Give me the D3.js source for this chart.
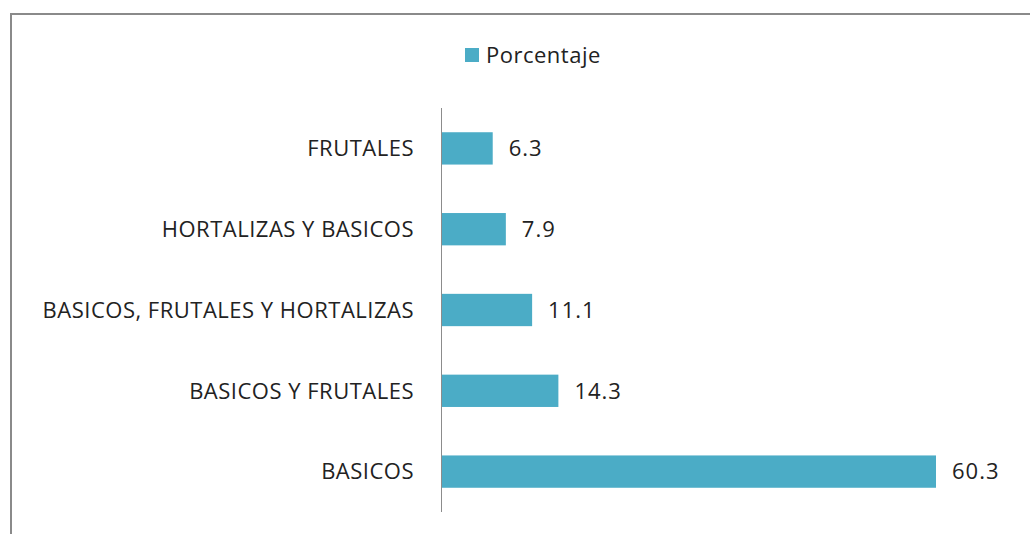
<!DOCTYPE html>
<html>
<head>
<meta charset="utf-8">
<script src="https://cdn.jsdelivr.net/npm/d3@7"></script>
<style>
  body { margin: 0; background: #fff; }
  svg text { font-family: "Open Sans", "Noto Sans", sans-serif; fill: #222; }
</style>
</head>
<body>
<div id="chart"></div>
<script>
var categories = ["FRUTALES", "HORTALIZAS Y BASICOS", "BASICOS, FRUTALES Y HORTALIZAS", "BASICOS Y FRUTALES", "BASICOS"];
var values = [6.3, 7.9, 11.1, 14.3, 60.3];
var seriesName = "Porcentaje";

(function() {
    var width = 1030, height = 534;
    var barColor = "#4bacc6";

    var svg = d3.select("#chart")
        .append("svg")
        .attr("width", width)
        .attr("height", height);

    // outer frame (cut off on right and bottom like the screenshot)
    svg.append("rect")
        .attr("x", 11)
        .attr("y", 14)
        .attr("width", 1040)
        .attr("height", 540)
        .attr("fill", "#fff")
        .attr("stroke", "#8a8a8a")
        .attr("stroke-width", 2);

    var y = d3.scaleBand()
        .domain(categories)
        .range([108, 512])
        .paddingInner(0.6)
        .paddingOuter(0.3);

    var x = d3.scaleLinear()
        .domain([0, 60.3])
        .range([441, 936]);

    var data = categories.map(function(c, i) {
        return { name: c, value: values[i] };
    });

    svg.selectAll(".bar")
        .data(data)
        .enter()
        .append("rect")
        .attr("class", "bar")
        .attr("x", x(0))
        .attr("y", function(d) { return y(d.name); })
        .attr("width", function(d) { return x(d.value) - x(0); })
        .attr("height", y.bandwidth())
        .attr("fill", barColor);

    // category labels
    svg.selectAll(".cat")
        .data(data)
        .enter()
        .append("text")
        .attr("class", "cat")
        .attr("x", 414)
        .attr("y", function(d) { return y(d.name) + y.bandwidth() / 2; })
        .attr("dy", "0.35em")
        .attr("text-anchor", "end")
        .style("font-size", "22px")
        .style("letter-spacing", "0.5px")
        .text(function(d) { return d.name; });

    // value labels
    svg.selectAll(".val")
        .data(data)
        .enter()
        .append("text")
        .attr("class", "val")
        .attr("x", function(d) { return x(d.value) + 16; })
        .attr("y", function(d) { return y(d.name) + y.bandwidth() / 2; })
        .attr("dy", "0.35em")
        .style("font-size", "22px")
        .style("letter-spacing", "1px")
        .text(function(d) { return d.value.toFixed(1); });

    // axis line
    svg.append("line")
        .attr("x1", x(0) + 0.5)
        .attr("x2", x(0) + 0.5)
        .attr("y1", y.range()[0])
        .attr("y2", y.range()[1])
        .attr("stroke", "#8c8c8c")
        .attr("stroke-width", 1);

    // legend
    var legend = svg.append("g").attr("transform", "translate(465,48)");
    legend.append("rect")
        .attr("width", 14)
        .attr("height", 14)
        .attr("fill", barColor);
    legend.append("text")
        .attr("x", 21)
        .attr("y", 7)
        .attr("dy", "0.35em")
        .style("font-size", "22px")
        .style("letter-spacing", "0.5px")
        .text(seriesName);
})();
</script>
</body>
</html>
